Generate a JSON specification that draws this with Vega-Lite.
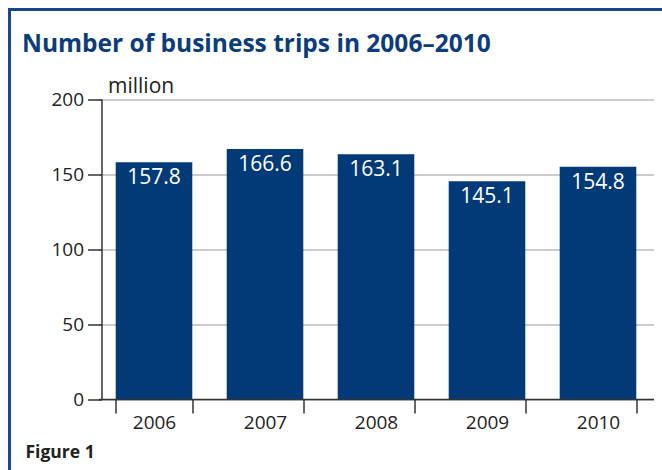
{
  "$schema": "https://vega.github.io/schema/vega-lite/v6.json",
  "width": 659,
  "height": 467,
  "autosize": "none",
  "padding": {"left": 9.5, "top": 9.5, "right": -6.5, "bottom": -6.5},
  "background": "white",
  "title": {
    "text": "Number of business trips in 2006–2010",
    "anchor": "start",
    "frame": "group",
    "offset": 0,
    "baseline": "alphabetic",
    "dx": 12.5,
    "dy": 66.5,
    "font": "Open Sans",
    "fontSize": 24.5,
    "fontWeight": "bold",
    "color": "#0b3c7c"
  },
  "data": {
    "values": [
      {"year": "2006", "trips": 157.8},
      {"year": "2007", "trips": 166.6},
      {"year": "2008", "trips": 163.1},
      {"year": "2009", "trips": 145.1},
      {"year": "2010", "trips": 154.8}
    ]
  },
  "encoding": {
    "x": {
      "field": "year",
      "type": "nominal",
      "scale": {"range": [89, 644], "paddingInner": 0.31, "paddingOuter": 0.155},
      "axis": {
        "orient": "bottom",
        "offset": -77.5,
        "labelAngle": 0,
        "labelFont": "Open Sans",
        "labelFontSize": 19,
        "labelColor": "#222222",
        "labelPadding": 0,
        "tickBand": "extent",
        "tickSize": 14,
        "tickColor": "#333333",
        "tickWidth": 1.5,
        "domainColor": "#333333",
        "domainWidth": 1.5,
        "grid": false,
        "title": "Figure 1",
        "titleFont": "Open Sans",
        "titleFontSize": 17.5,
        "titleFontWeight": "bold",
        "titleColor": "#222222",
        "titleAnchor": "start",
        "titleAlign": "left",
        "titleBaseline": "alphabetic",
        "titleX": 15.5,
        "titleY": 58.5
      }
    },
    "y": {
      "field": "trips",
      "type": "quantitative",
      "scale": {"domain": [0, 200], "range": [389.5, 89.5], "nice": false},
      "axis": {
        "orient": "left",
        "offset": -92,
        "values": [0, 50, 100, 150, 200],
        "labelFont": "Open Sans",
        "labelFontSize": 19,
        "labelColor": "#222222",
        "labelPadding": 4,
        "tickSize": 14,
        "tickColor": "#333333",
        "tickWidth": 1.5,
        "domainColor": "#333333",
        "domainWidth": 1.5,
        "grid": true,
        "gridColor": "#bbbbbb",
        "gridWidth": 1.5,
        "title": "million",
        "titleFont": "Open Sans",
        "titleFontSize": 21,
        "titleFontWeight": "normal",
        "titleColor": "#222222",
        "titleAngle": 0,
        "titleAlign": "left",
        "titleBaseline": "alphabetic",
        "titleX": 6,
        "titleY": 82.5
      }
    }
  },
  "layer": [
    {"mark": {"type": "bar", "color": "#023a78"}},
    {
      "mark": {
        "type": "text",
        "color": "white",
        "baseline": "top",
        "dy": 5,
        "font": "Open Sans",
        "fontSize": 21
      },
      "encoding": {"text": {"field": "trips", "type": "quantitative", "format": ".1f"}}
    }
  ],
  "config": {
    "view": {"stroke": "#16498c", "strokeWidth": 3}
  }
}
